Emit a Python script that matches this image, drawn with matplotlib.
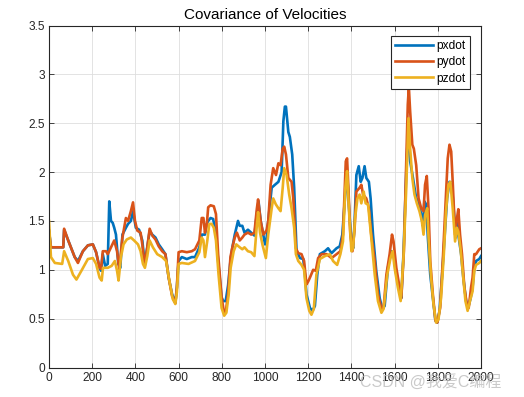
import matplotlib
matplotlib.use("Agg")
import matplotlib.pyplot as plt
from matplotlib.ticker import FormatStrFormatter, FuncFormatter

# ---------------- data ----------------
px_x = [0, 9, 66, 70, 89, 119, 134, 157, 180, 203,
        218, 234, 241, 249, 260, 272, 279, 287, 295, 302,
        310, 321, 330, 340, 356, 366, 379, 389, 402, 417,
        432, 443, 455, 466, 478, 493, 508, 524, 539, 554,
        570, 585, 592, 600, 615, 638, 661, 676, 696, 707,
        715, 722, 730, 737, 748, 760, 773, 783, 799, 806,
        818, 829, 840, 849, 860, 875, 883, 895, 905, 921,
        936, 951, 962, 970, 980, 992, 1000, 1008, 1015, 1031,
        1046, 1062, 1077, 1085, 1092, 1097, 1108, 1115, 1126, 1135,
        1146, 1162, 1177, 1185, 1192, 1208, 1220, 1231, 1242, 1254,
        1277, 1292, 1308, 1331, 1346, 1358, 1369, 1380, 1389, 1400,
        1408, 1415, 1423, 1434, 1443, 1451, 1461, 1469, 1481, 1489,
        1500, 1515, 1531, 1543, 1554, 1569, 1585, 1595, 1608, 1623,
        1631, 1641, 1654, 1664, 1672, 1685, 1700, 1712, 1723, 1731,
        1738, 1746, 1754, 1765, 1777, 1789, 1797, 1808, 1820, 1831,
        1843, 1854, 1864, 1872, 1883, 1890, 1897, 1908, 1918, 1931,
        1940, 1951, 1961, 1969, 1977, 1992, 2000]
px_y = [1.40, 1.23, 1.23, 1.41, 1.30, 1.13, 1.09, 1.19, 1.25, 1.26,
        1.18, 1.02, 0.99, 1.16, 1.04, 1.06, 1.70, 1.50, 1.48, 1.43,
        1.36, 1.06, 1.02, 1.36, 1.43, 1.47, 1.50, 1.60, 1.43, 1.41,
        1.30, 1.06, 1.23, 1.40, 1.36, 1.33, 1.26, 1.21, 1.16, 0.92,
        0.75, 0.66, 0.82, 1.09, 1.13, 1.11, 1.13, 1.13, 1.23, 1.36,
        1.36, 1.36, 1.47, 1.50, 1.53, 1.52, 1.36, 1.09, 0.72, 0.68,
        0.68, 0.84, 1.09, 1.23, 1.36, 1.50, 1.45, 1.45, 1.38, 1.41,
        1.38, 1.35, 1.57, 1.70, 1.50, 1.36, 1.26, 1.33, 1.50, 1.84,
        1.87, 1.90, 2.00, 2.52, 2.67, 2.67, 2.41, 2.36, 2.18, 1.84,
        1.19, 1.12, 1.11, 0.95, 0.75, 0.61, 0.58, 0.63, 0.95, 1.16,
        1.19, 1.22, 1.17, 1.22, 1.24, 1.36, 1.70, 2.01, 1.63, 1.29,
        1.22, 1.50, 1.97, 2.06, 1.90, 1.94, 2.06, 1.94, 1.90, 1.73,
        1.36, 0.99, 0.71, 0.60, 0.63, 1.02, 1.19, 1.16, 0.95, 0.78,
        0.71, 1.16, 2.00, 2.52, 2.11, 1.94, 1.73, 1.70, 1.56, 1.45,
        1.70, 1.67, 1.33, 0.95, 0.71, 0.48, 0.46, 0.58, 0.95, 1.33,
        1.73, 1.90, 1.89, 1.67, 1.33, 1.50, 1.33, 1.16, 0.92, 0.68,
        0.61, 0.70, 0.82, 1.02, 1.09, 1.11, 1.14]

py_x = [0, 9, 66, 70, 89, 119, 134, 157, 180, 203,
        218, 234, 241, 249, 264, 272, 287, 302, 315, 325,
        340, 356, 366, 379, 389, 398, 409, 424, 432, 443,
        455, 466, 478, 493, 508, 524, 539, 554, 570, 585,
        592, 600, 615, 638, 661, 676, 696, 707, 715, 722,
        730, 737, 748, 763, 773, 783, 799, 809, 818, 829,
        840, 849, 860, 870, 883, 895, 905, 921, 936, 951,
        962, 968, 980, 992, 1000, 1008, 1015, 1026, 1038, 1051,
        1062, 1072, 1082, 1089, 1097, 1108, 1123, 1131, 1143, 1154,
        1169, 1181, 1192, 1200, 1208, 1223, 1235, 1246, 1262, 1285,
        1308, 1331, 1349, 1361, 1374, 1380, 1386, 1395, 1405, 1415,
        1423, 1438, 1446, 1454, 1469, 1481, 1492, 1508, 1523, 1539,
        1549, 1562, 1577, 1588, 1595, 1608, 1623, 1631, 1643, 1654,
        1661, 1666, 1672, 1682, 1689, 1700, 1711, 1723, 1734, 1741,
        1749, 1757, 1765, 1777, 1789, 1798, 1811, 1823, 1835, 1846,
        1854, 1862, 1869, 1880, 1889, 1895, 1903, 1912, 1923, 1934,
        1943, 1954, 1961, 1969, 1977, 1992, 2000]
py_y = [1.40, 1.23, 1.23, 1.42, 1.30, 1.13, 1.07, 1.19, 1.25, 1.26,
        1.18, 1.02, 1.01, 1.19, 1.19, 1.16, 1.23, 1.30, 1.19, 1.01,
        1.33, 1.53, 1.50, 1.60, 1.69, 1.50, 1.40, 1.38, 1.26, 1.04,
        1.23, 1.42, 1.35, 1.31, 1.24, 1.19, 1.16, 0.92, 0.73, 0.66,
        0.82, 1.18, 1.19, 1.18, 1.19, 1.21, 1.30, 1.53, 1.53, 1.38,
        1.45, 1.64, 1.66, 1.65, 1.57, 1.16, 0.72, 0.58, 0.56, 0.75,
        1.13, 1.23, 1.33, 1.38, 1.30, 1.33, 1.36, 1.38, 1.36, 1.38,
        1.62, 1.72, 1.50, 1.36, 1.38, 1.41, 1.50, 1.87, 2.04, 1.97,
        2.09, 2.07, 2.24, 2.26, 2.18, 1.94, 1.90, 1.73, 1.22, 1.17,
        1.16, 1.09, 0.85, 0.88, 0.92, 1.00, 0.99, 1.12, 1.16, 1.16,
        1.12, 1.16, 1.19, 1.36, 2.11, 2.14, 1.84, 1.36, 1.19, 1.43,
        1.80, 1.84, 1.87, 1.77, 1.73, 1.63, 1.36, 1.09, 0.75, 0.60,
        0.61, 0.95, 1.16, 1.36, 1.29, 1.02, 0.82, 0.71, 1.19, 2.11,
        2.69, 2.87, 2.62, 2.28, 2.24, 2.07, 1.73, 1.63, 1.60, 1.87,
        1.96, 1.63, 1.09, 0.75, 0.48, 0.46, 0.61, 1.09, 1.63, 2.14,
        2.28, 2.21, 1.90, 1.36, 1.53, 1.62, 1.36, 1.16, 0.82, 0.65,
        0.61, 0.82, 0.92, 1.16, 1.16, 1.21, 1.22]

pz_x = [0, 9, 27, 61, 70, 89, 111, 127, 150, 180,
        203, 218, 234, 244, 250, 272, 290, 305, 315, 322,
        333, 345, 360, 379, 394, 412, 424, 435, 444, 455,
        466, 481, 501, 524, 542, 557, 573, 585, 592, 600,
        615, 646, 676, 696, 707, 715, 722, 733, 742, 753,
        763, 773, 785, 799, 811, 821, 832, 841, 855, 867,
        883, 895, 905, 921, 936, 951, 962, 968, 977, 989,
        1004, 1015, 1031, 1038, 1050, 1062, 1072, 1082, 1089, 1100,
        1112, 1123, 1135, 1143, 1154, 1169, 1181, 1192, 1205, 1215,
        1226, 1238, 1254, 1277, 1300, 1315, 1334, 1349, 1361, 1372,
        1380, 1389, 1400, 1408, 1417, 1428, 1438, 1446, 1457, 1466,
        1477, 1492, 1508, 1523, 1539, 1549, 1566, 1581, 1591, 1600,
        1615, 1628, 1641, 1654, 1664, 1672, 1682, 1692, 1703, 1715,
        1726, 1734, 1741, 1751, 1758, 1769, 1780, 1792, 1803, 1815,
        1828, 1838, 1849, 1858, 1869, 1880, 1888, 1895, 1905, 1915,
        1928, 1938, 1949, 1961, 1969, 1977, 1992, 2000]
pz_y = [1.50, 1.13, 1.07, 1.06, 1.19, 1.09, 0.95, 0.90, 0.99, 1.11,
        1.12, 1.06, 0.92, 0.89, 1.02, 1.02, 1.04, 1.09, 0.99, 0.89,
        1.13, 1.26, 1.31, 1.33, 1.30, 1.26, 1.19, 1.06, 1.02, 1.14,
        1.30, 1.23, 1.16, 1.13, 1.09, 0.89, 0.70, 0.65, 0.77, 1.06,
        1.07, 1.06, 1.09, 1.18, 1.33, 1.30, 1.13, 1.30, 1.47, 1.47,
        1.43, 1.30, 0.95, 0.61, 0.53, 0.56, 0.75, 1.02, 1.19, 1.26,
        1.23, 1.21, 1.23, 1.19, 1.18, 1.14, 1.45, 1.59, 1.38, 1.25,
        1.12, 1.36, 1.63, 1.73, 1.67, 1.63, 1.60, 1.84, 2.04, 1.97,
        1.77, 1.63, 1.43, 1.16, 1.09, 1.05, 1.00, 0.71, 0.58, 0.54,
        0.60, 0.95, 1.11, 1.14, 1.16, 1.09, 1.05, 1.16, 1.29, 1.84,
        2.01, 1.60, 1.19, 1.22, 1.53, 1.73, 1.77, 1.68, 1.80, 1.68,
        1.67, 1.33, 0.95, 0.68, 0.56, 0.60, 0.95, 1.12, 1.19, 1.02,
        0.82, 0.68, 1.12, 1.84, 2.55, 2.24, 1.94, 1.77, 1.68, 1.60,
        1.50, 1.36, 1.56, 1.63, 1.29, 0.92, 0.65, 0.46, 0.49, 0.71,
        1.16, 1.60, 1.87, 1.90, 1.63, 1.29, 1.43, 1.39, 1.22, 0.99,
        0.68, 0.58, 0.68, 0.78, 0.99, 1.05, 1.07, 1.09]

labels = ["pxdot", "pydot", "pzdot"]
title = "Covariance of Velocities"
x_ticks = list(range(0, 2001, 200))
y_ticks = [0, 0.5, 1, 1.5, 2, 2.5, 3, 3.5]
watermark = "CSDN @我爱C编程"

# ---------------- figure ----------------
plt.rcParams['font.family'] = ['Liberation Sans', 'DejaVu Sans']
W, H = 524, 397
fig = plt.figure(figsize=(W / 100, H / 100), dpi=100)
ax = fig.add_axes([49 / W, (H - 367.5) / H, (481 - 49) / W, (367.5 - 25.5) / H])

colors = ["#0072BD", "#D95319", "#EDB120"]
ax.plot(px_x, px_y, color=colors[0], lw=1.9, label=labels[0], solid_joinstyle='round')
ax.plot(py_x, py_y, color=colors[1], lw=1.9, label=labels[1], solid_joinstyle='round')
ax.plot(pz_x, pz_y, color=colors[2], lw=1.9, label=labels[2], solid_joinstyle='round')

ax.set_xlim(0, 2000)
ax.set_ylim(0, 3.5)
ax.set_xticks(x_ticks)
ax.set_yticks(y_ticks)
ax.yaxis.set_major_formatter(FuncFormatter(lambda v, p: f"{v:g}"))
ax.grid(True, color="#dedede", lw=0.6)
ax.set_axisbelow(True)
ax.tick_params(direction='in', length=3.5, width=0.6, colors='#262626',
               labelsize=8.6, top=True, right=True, pad=3)
for sp in ax.spines.values():
    sp.set_color('#262626')
    sp.set_linewidth(0.8)
ax.set_title(title, fontsize=11, color='#000000', pad=5)

leg = ax.legend(loc='upper right', bbox_to_anchor=((470 - 49) / 432, (367.5 - 36) / 342),
                borderaxespad=0, fancybox=False, framealpha=1, edgecolor='#262626',
                fontsize=8.6, handlelength=3.2, labelspacing=0.35, handletextpad=0.3,
                borderpad=0.35)
leg.get_frame().set_linewidth(0.8)

fig.text(360 / W, (H - 382) / H, watermark, fontsize=11.5, color='#bdbdbd', alpha=0.8,
         ha='left', va='center', family=['Liberation Sans', 'Noto Sans CJK SC'])

fig.savefig("out.png", dpi=100)
